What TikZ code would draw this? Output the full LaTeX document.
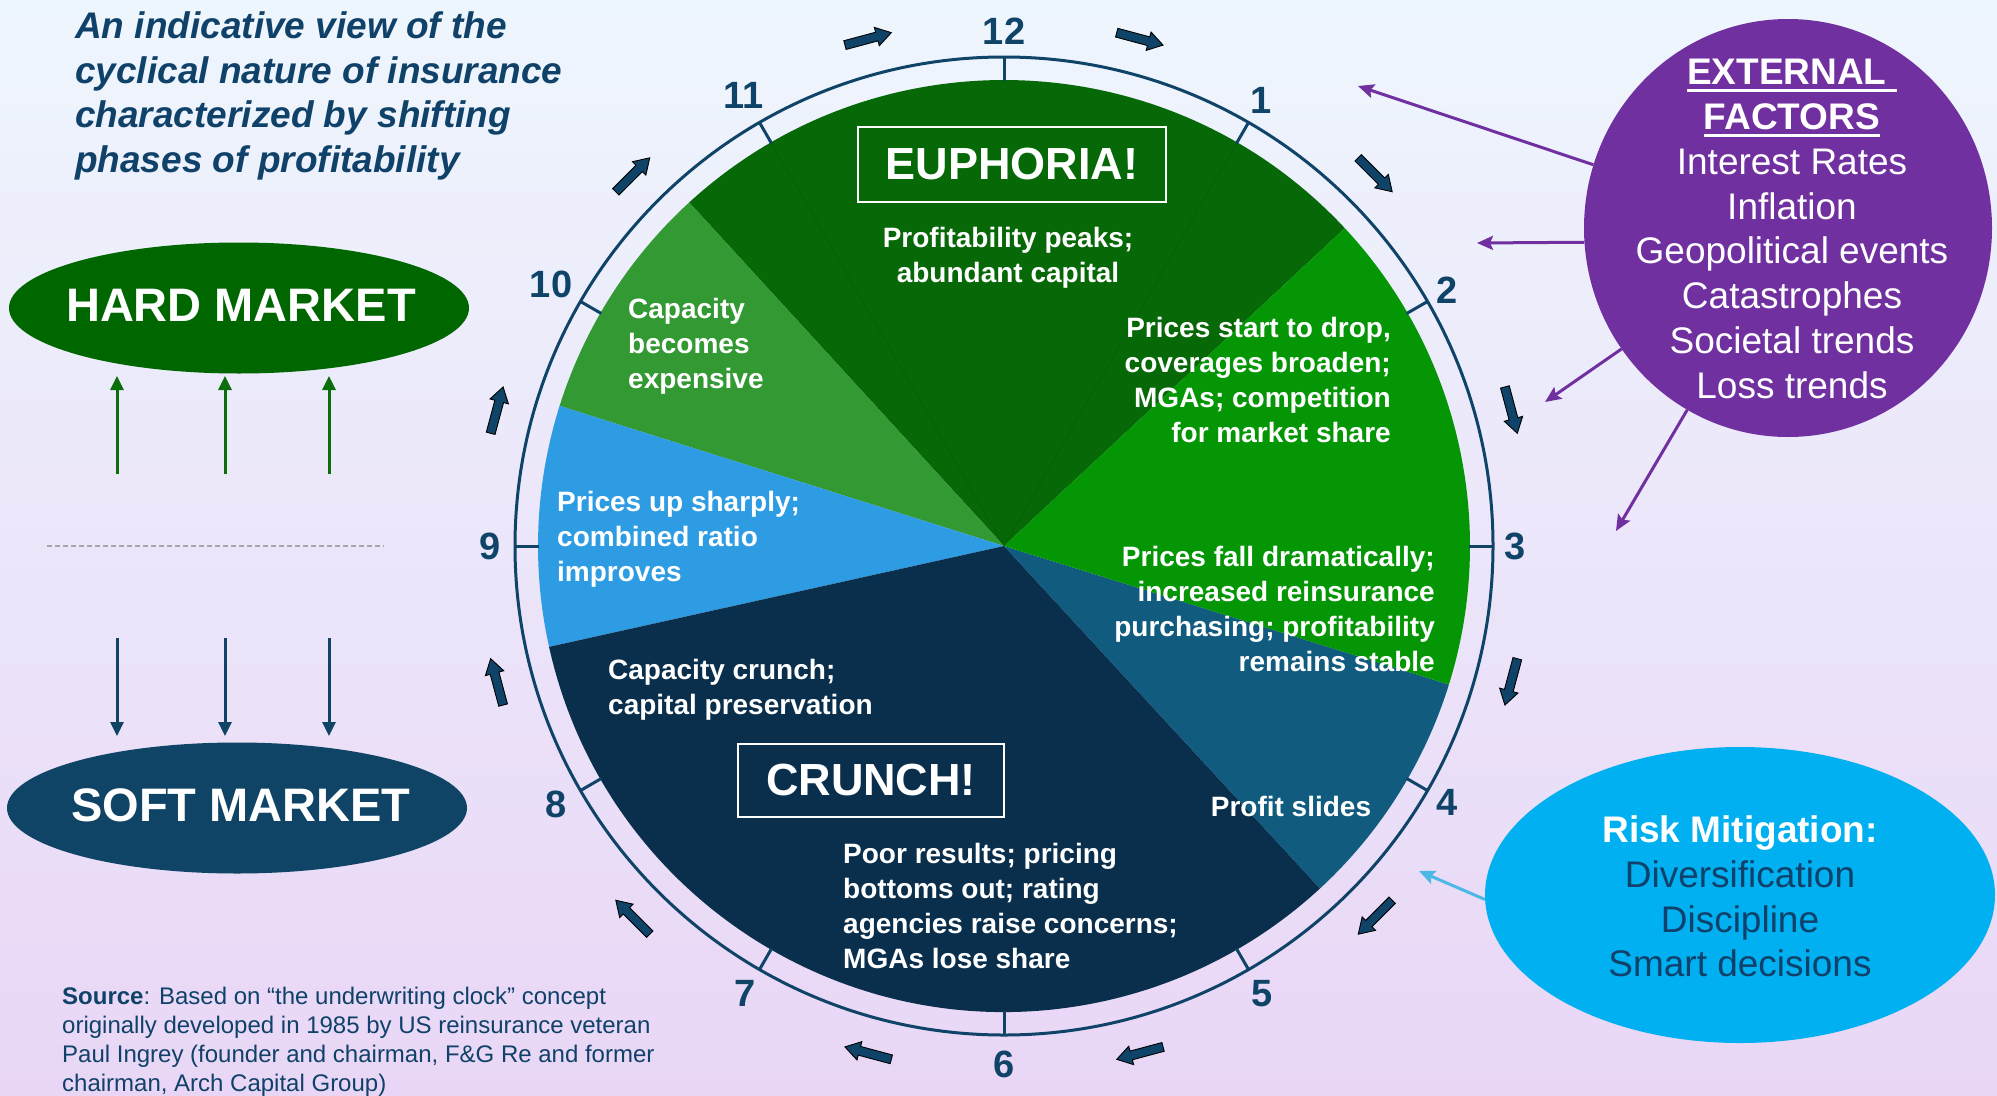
\documentclass[tikz,border=0pt]{standalone}
\usepackage{fontspec}
\setmainfont{Liberation Sans}
\usetikzlibrary{shapes.geometric,arrows.meta}
\definecolor{bgtop}{HTML}{EEF6FD}
\definecolor{bgmid}{HTML}{DCEDF9}
\definecolor{bgbot}{HTML}{E9D6F6}
\definecolor{navytxt}{HTML}{0F4169}
\definecolor{ringc}{HTML}{0F4468}
\definecolor{dkgreen}{HTML}{066806}
\definecolor{dkgreenline}{HTML}{066106}
\definecolor{mdgreen}{HTML}{339933}
\definecolor{brgreen}{HTML}{059605}
\definecolor{ltblue}{HTML}{2E9CE3}
\definecolor{navy}{HTML}{0A2F4C}
\definecolor{tealc}{HTML}{115C7E}
\definecolor{hardg}{HTML}{006600}
\definecolor{softb}{HTML}{0F4466}
\definecolor{upgreen}{HTML}{0A6E0A}
\definecolor{purp}{HTML}{7030A0}
\definecolor{riskb}{HTML}{00B0F0}
\definecolor{riskarrow}{HTML}{4DB8E8}
\definecolor{arrowfill}{HTML}{0F4468}
\definecolor{risktxt}{HTML}{10416A}
\newcommand{\thickul}[1]{\setbox0\hbox{#1}\rlap{\rule[-7.5pt]{\wd0}{3.3pt}}\box0}
\tikzset{
  titletext/.style={text=navytxt, font=\bfseries\itshape\fontsize{37}{44.6}\selectfont, align=left, inner sep=0pt},
  srctext/.style={text=navytxt, font=\fontsize{24}{28.8}\selectfont, align=left, inner sep=0pt},
  marketell/.style={ellipse, minimum width=460pt, minimum height=131pt, inner sep=0pt},
  markettxt/.style={text=white, font=\bfseries\fontsize{47}{50}\selectfont, inner sep=0pt},
  uparrow/.style={draw=upgreen, line width=3pt, -{Triangle[length=14pt,width=13pt]}},
  downarrow/.style={draw=softb, line width=3pt, -{Triangle[length=14pt,width=13pt]}},
  dashline/.style={draw=gray!70, line width=1.3pt, dash pattern=on 5pt off 3pt},
  pietext/.style={text=white, font=\bfseries\fontsize{28}{35}\selectfont, inner sep=0pt},
  num/.style={text=ringc, font=\bfseries\fontsize{38}{40}\selectfont, inner sep=0pt},
  blockarrow/.style={fill=arrowfill, draw=black, line width=0.9pt, line join=miter},
  phasebox/.style={draw=white, line width=2pt, text=white, font=\bfseries\fontsize{45}{50}\selectfont, inner sep=0pt},
  purparrow/.style={draw=purp, line width=3pt, -{Stealth[length=16pt,width=14pt,inset=3pt]}},
  riskarr/.style={draw=riskarrow, line width=3pt, -{Stealth[length=16pt,width=14pt,inset=3pt]}},
  exttext/.style={text=white, font=\fontsize{37}{44.8}\selectfont, align=center, inner sep=0pt},
  risktextst/.style={text=risktxt, font=\fontsize{37}{44.8}\selectfont, align=center, inner sep=0pt}
}
\begin{document}
\begin{tikzpicture}[x=1pt,y=-1pt]
\useasboundingbox (0,0) rectangle (1997,1095);
\shade[top color=bgtop, middle color=bgmid, bottom color=bgbot] (0,0) rectangle (1997,1095);

% title
\node[titletext, anchor=north west] (title) at (75,11.5)
  {An indicative view of the\\cyclical nature of insurance\\characterized by shifting\\phases of profitability};

% market ellipses
\node[marketell, fill=hardg] (hard) at (239,308) {};
\node[markettxt] (hardtxt) at (241,305) {HARD MARKET};
\node[marketell, fill=softb] (soft) at (237,808) {};
\node[markettxt] (softtxt) at (241,805) {SOFT MARKET};

% up / down arrows
\foreach \x [count=\i] in {117,225,329} {
  \coordinate (us\i) at (\x,474);
  \coordinate (ue\i) at (\x,376);
  \draw[uparrow] (us\i) -- (ue\i);
  \coordinate (ds\i) at (\x,638);
  \coordinate (de\i) at (\x,736);
  \draw[downarrow] (ds\i) -- (de\i);
}
\coordinate (dl1) at (47,546);
\coordinate (dl2) at (384,546);
\draw[dashline] (dl1) -- (dl2);

% clock
\begin{scope}[shift={(1004,546)}]
  \fill[dkgreen] (0,0) -- (43:466pt) arc[start angle=43, end angle=132.5, radius=466pt] -- cycle;
  \fill[mdgreen] (0,0) -- (132.5:466pt) arc[start angle=132.5, end angle=162.5, radius=466pt] -- cycle;
  \fill[ltblue] (0,0) -- (162.5:466pt) arc[start angle=162.5, end angle=192.5, radius=466pt] -- cycle;
  \fill[navy] (0,0) -- (192.5:466pt) arc[start angle=192.5, end angle=312.7, radius=466pt] -- cycle;
  \fill[tealc] (0,0) -- (312.7:466pt) arc[start angle=312.7, end angle=342.7, radius=466pt] -- cycle;
  \fill[brgreen] (0,0) -- (-17.3:466pt) arc[start angle=-17.3, end angle=43, radius=466pt] -- cycle;
  \foreach \a in {60,120} \draw[dkgreenline, line width=0.8pt] (0,0) -- (\a:466pt);
  % ring and ticks
  \draw[ringc, line width=3pt] (0,0) circle[radius=489pt];
  \foreach \a in {0,30,...,330} \draw[ringc, line width=3pt] (\a:465pt) -- (\a:489pt);
  % numbers
  \foreach \n/\a/\r in {12/90/515, 1/60/515, 2/30/512, 3/0/511, 4/-30/512, 5/-60/517, 6/-90/518, 7/-120/517, 8/-150/517, 9/180/514, 10/150/523, 11/120/520}
    \node[num] (n\n) at (\a:\r pt) {\n};
  % block arrows
  \foreach \a in {105,75,45,15,-15,-45,-75,-105,-135,-165,-195,-225} {
    \begin{scope}[shift={(\a:525pt)}, rotate=\a-90]
      \filldraw[blockarrow] (-24pt,-4.5pt) -- (9pt,-4.5pt) -- (9pt,-9.5pt) -- (24pt,0pt) -- (9pt,9.5pt) -- (9pt,4.5pt) -- (-24pt,4.5pt) -- cycle;
    \end{scope}
  }
\end{scope}

% phase boxes
\node[phasebox, minimum width=308pt, minimum height=75pt] (euph) at (1012,164.5) {EUPHORIA!};
\node[phasebox, minimum width=266pt, minimum height=73pt] (crunch) at (871,780) {CRUNCH!};

% pie texts
\node[pietext, anchor=north, align=center] (tpeak) at (1008,227.5) {Profitability peaks;\\abundant capital};
\node[pietext, anchor=north west, align=left] (tcap) at (628,298.5) {Capacity\\becomes\\expensive};
\node[pietext, anchor=north east, align=right] (tdrop) at (1391,317.5) {Prices start to drop,\\coverages broaden;\\MGAs; competition\\for market share};
\node[pietext, anchor=north west, align=left] (tup) at (557,491.5) {Prices up sharply;\\combined ratio\\improves};
\node[pietext, anchor=north east, align=right] (tfall) at (1435,546.5) {Prices fall dramatically;\\increased reinsurance\\purchasing; profitability\\remains stable};
\node[pietext, anchor=north west, align=left] (tcrunch) at (608,659.5) {Capacity crunch;\\capital preservation};
\node[pietext, anchor=north] (tslide) at (1291,796.5) {Profit slides};
\node[pietext, anchor=north west, align=left] (tpoor) at (843,842.5) {Poor results; pricing\\bottoms out; rating\\agencies raise concerns;\\MGAs lose share};

% source
\node[srctext, anchor=north west] (src) at (62,987)
  {\textbf{Source}: Based on “the underwriting clock” concept\\originally developed in 1985 by US reinsurance veteran\\Paul Ingrey (founder and chairman, F\&G Re and former\\chairman, Arch Capital Group)};

% external factors
\node[ellipse, fill=purp, minimum width=408pt, minimum height=418pt, inner sep=0pt] (ext) at (1788,228) {};
\node[exttext, anchor=north] (exttxt) at (1792,59)
  {\textbf{\thickul{EXTERNAL\ }}\\\textbf{\thickul{FACTORS}}\\Interest Rates\\Inflation\\Geopolitical events\\Catastrophes\\Societal trends\\Loss trends};
\coordinate (pt1) at (1358,86);
\coordinate (pt2) at (1477,243);
\coordinate (pt3) at (1545,402);
\coordinate (pt4) at (1616,531);
\draw[purparrow] (ext.162) -- (pt1);
\draw[purparrow] (ext.184) -- (pt2);
\draw[purparrow] (ext.216) -- (pt3);
\draw[purparrow] (ext.241) -- (pt4);

% risk mitigation
\node[ellipse, fill=riskb, minimum width=510pt, minimum height=296pt, inner sep=0pt] (risk) at (1740,895) {};
\node[risktextst, anchor=north] (risktxt) at (1740,815.5)
  {{\bfseries\color{white}Risk Mitigation:}\\Diversification\\Discipline\\Smart decisions};
\coordinate (pt5) at (1419,871);
\draw[riskarr] (risk.181) -- (pt5);
\end{tikzpicture}
\end{document}
